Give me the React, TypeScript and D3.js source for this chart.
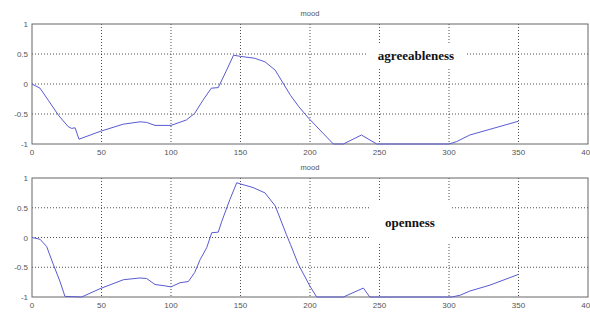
import React from "react";
import * as d3 from "d3";

const xTicks = [0, 50, 100, 150, 200, 250, 300, 350, 400];
const yTicks = [-1, -0.5, 0, 0.5, 1];

const agreeX = [0, 5.8, 11.7, 19, 26, 28.5, 31, 33.8, 49, 65.6, 77.7, 82.5, 88.5, 100, 111, 117, 123, 129, 134, 140, 145, 150, 160, 167.6, 175, 181, 186, 192, 199, 216.8, 224, 237, 248, 300, 305.5, 315, 350];
const agreeY = [0, -0.07, -0.27, -0.52, -0.71, -0.74, -0.73, -0.92, -0.79, -0.67, -0.63, -0.64, -0.69, -0.69, -0.6, -0.49, -0.27, -0.07, -0.06, 0.23, 0.48, 0.46, 0.43, 0.37, 0.23, 0.0, -0.19, -0.38, -0.57, -1, -1, -0.85, -1, -1, -0.96, -0.85, -0.62];

const openX = [0, 5.8, 10.5, 15.3, 20, 23.7, 35.7, 49, 65.7, 77.7, 82.5, 88.5, 95, 100, 106.5, 112.5, 117, 121, 125.7, 129.3, 134, 136.5, 142.4, 147.3, 150, 159, 167.6, 175, 183, 186, 191.6, 200, 204.8, 224, 238.4, 243, 302, 308, 315, 329.5, 350];
const openY = [0, -0.03, -0.15, -0.45, -0.73, -0.99, -1, -0.86, -0.71, -0.68, -0.69, -0.79, -0.81, -0.83, -0.76, -0.74, -0.59, -0.37, -0.17, 0.08, 0.09, 0.27, 0.64, 0.92, 0.9, 0.84, 0.75, 0.53, 0.05, -0.12, -0.45, -0.82, -1, -1, -0.85, -1, -1, -0.97, -0.9, -0.8, -0.62];

const W = 590;
const H = 313;

type PanelProps = {
  top: number;
  bottom: number;
  xs: number[];
  ys: number[];
  label: string;
  labelX: number;
  labelY: number;
  boxW: number;
  boxH: number;
};

function Panel({ top, bottom, xs, ys, label, labelX, labelY, boxW, boxH }: PanelProps) {
  const x = d3.scaleLinear().domain([0, 400]).range([32, 588]);
  const y = d3.scaleLinear().domain([-1, 1]).range([bottom, top]);
  const line = d3
    .line<number>()
    .x((_, i) => x(xs[i]))
    .y((d) => y(d));
  const tickFont = { fontFamily: "Liberation Sans, Arial, sans-serif", fontSize: 8, fill: "#555" };
  return (
    <g>
      <text x={(x(0) + x(400)) / 2} y={top - 8} textAnchor="middle" {...tickFont} fontSize={7.5}>
        mood
      </text>
      {xTicks.slice(1, -1).map((t) => (
        <line key={"vx" + t} x1={x(t)} x2={x(t)} y1={top} y2={bottom} stroke="#222" strokeWidth={0.8} strokeDasharray="1,2" />
      ))}
      {yTicks.slice(1, -1).map((t) => (
        <line key={"hy" + t} x1={x(0)} x2={x(400)} y1={y(t)} y2={y(t)} stroke="#222" strokeWidth={0.8} strokeDasharray="1,2" />
      ))}
      <rect x={labelX - boxW / 2} y={labelY - boxH / 2} width={boxW} height={boxH} fill="white" />
      <text
        x={labelX}
        y={labelY + 4.5}
        textAnchor="middle"
        fontFamily="Liberation Serif, Times New Roman, serif"
        fontWeight="bold"
        fontSize={13}
        fill="#111"
      >
        {label}
      </text>
      <rect x={x(0)} y={top} width={x(400) - x(0)} height={bottom - top} fill="none" stroke="#666" strokeWidth={1} />
      <path d={line(ys) || ""} fill="none" stroke="#5a5ad2" strokeWidth={1} />
      {xTicks.map((t) => (
        <text key={"xl" + t} x={x(t)} y={bottom + 11} textAnchor="middle" {...tickFont}>
          {t}
        </text>
      ))}
      {yTicks.map((t) => (
        <text key={"yl" + t} x={28} y={y(t) + 3} textAnchor="end" {...tickFont}>
          {t}
        </text>
      ))}
    </g>
  );
}

export default function App() {
  return (
    <svg width={W} height={H} style={{ position: "absolute", left: 0, top: 0, background: "white" }}>
      <rect x={0} y={0} width={W} height={H} fill="white" />
      <Panel top={24} bottom={144} xs={agreeX} ys={agreeY} label="agreeableness" labelX={416} labelY={55} boxW={98} boxH={24} />
      <Panel top={178} bottom={297} xs={openX} ys={openY} label="openness" labelX={410} labelY={222} boxW={80} boxH={44} />
    </svg>
  );
}
